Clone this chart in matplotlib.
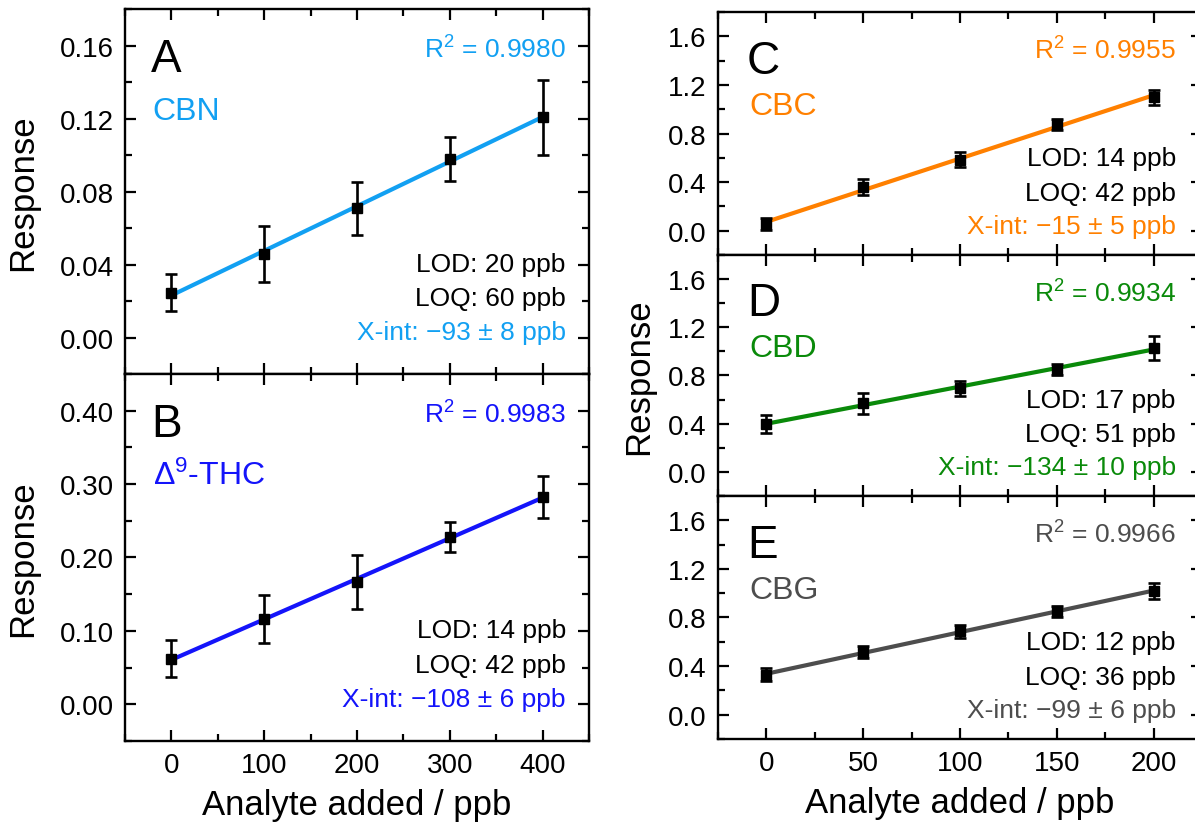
import numpy as np
import matplotlib.pyplot as plt
from matplotlib.ticker import MultipleLocator, FormatStrFormatter

plt.rcParams['font.family'] = ['Liberation Sans', 'DejaVu Sans']
plt.rcParams['mathtext.fontset'] = 'custom'
plt.rcParams['mathtext.rm'] = 'Liberation Sans'
plt.rcParams['mathtext.it'] = 'Liberation Sans:italic'

# standard addition levels (ppb)
conc_left = [0, 100, 200, 300, 400]
conc_right = [0, 50, 100, 150, 200]

# responses and standard deviations
cbn_resp = [0.0245, 0.0458, 0.0709, 0.0979, 0.1207]
cbn_err = [0.0101, 0.0153, 0.0145, 0.0121, 0.0206]
thc_resp = [0.0623, 0.1159, 0.1668, 0.2273, 0.2828]
thc_err = [0.0250, 0.0325, 0.0372, 0.0205, 0.0289]
cbc_resp = [0.055, 0.356, 0.585, 0.875, 1.098]
cbc_err = [0.047, 0.066, 0.063, 0.048, 0.062]
cbd_resp = [0.396, 0.571, 0.693, 0.848, 1.028]
cbd_err = [0.075, 0.087, 0.065, 0.047, 0.098]
cbg_resp = [0.329, 0.513, 0.686, 0.851, 1.016]
cbg_err = [0.055, 0.050, 0.052, 0.047, 0.067]

r2_vals = ['0.9980', '0.9983', '0.9955', '0.9934', '0.9966']
lod_vals = [20, 14, 14, 17, 12]
loq_vals = [60, 42, 42, 51, 36]
xint_vals = ['\u221293 \u00b1 8', '\u2212108 \u00b1 6', '\u221215 \u00b1 5',
             '\u2212134 \u00b1 10', '\u221299 \u00b1 6']


def draw_panel(ax, conc, resp, err, color, letter, name, i, txt_y):
    slope, icpt = np.polyfit(conc, resp, 1)
    xs = np.array([conc[0], conc[-1]])
    ax.plot(xs, slope * xs + icpt, color=color, lw=3, zorder=2)
    ax.errorbar(conc, resp, yerr=err, fmt='s', color='black', ms=6.5,
                capsize=4.5, elinewidth=1.9, capthick=1.9, zorder=3)
    ax.tick_params(which='both', direction='in', top=True, right=True,
                   width=1.6, labelsize=20, pad=8)
    ax.tick_params(which='major', length=8)
    ax.tick_params(which='minor', length=5)
    for s in ax.spines.values():
        s.set_linewidth(1.7)
    lx, ly, ny, ry, sx, sy = txt_y
    ax.text(lx, ly, letter, transform=ax.transAxes, fontsize=33, va='baseline')
    ax.text(lx + 0.004, ny, name, transform=ax.transAxes, fontsize=23,
            color=color, va='baseline')
    ax.text(sx, ry, 'R$^2$ = ' + r2_vals[i], transform=ax.transAxes,
            fontsize=19, color=color, ha='right', va='baseline')
    ax.text(sx, sy[0], 'LOD: %d ppb' % lod_vals[i], transform=ax.transAxes,
            fontsize=19, ha='right', va='baseline')
    ax.text(sx, sy[1], 'LOQ: %d ppb' % loq_vals[i], transform=ax.transAxes,
            fontsize=19, ha='right', va='baseline')
    ax.text(sx, sy[2], 'X-int: ' + xint_vals[i] + ' ppb', transform=ax.transAxes,
            fontsize=19, color=color, ha='right', va='baseline')


fig = plt.figure(figsize=(11.95, 8.28), dpi=100)

# left column
axA = fig.add_axes([0.1046, 0.5471, 0.3883, 0.4408])
axB = fig.add_axes([0.1046, 0.1039, 0.3883, 0.4432], sharex=axA)
# right column runs slightly past the right edge
axC = fig.add_axes([0.6008, 0.6908, 0.4050, 0.2935])
axD = fig.add_axes([0.6008, 0.3998, 0.4050, 0.2911], sharex=axC)
axE = fig.add_axes([0.6008, 0.1063, 0.4050, 0.2935], sharex=axC)

left_txt = (0.056, 0.83, 0.70, 0.868, 0.95, (0.282, 0.188, 0.095))
right_txt = (0.06, 0.75, 0.58, 0.808, 0.946, (0.37, 0.228, 0.09))

draw_panel(axA, conc_left, cbn_resp, cbn_err, '#12a0f2', 'A', 'CBN', 0, left_txt)
draw_panel(axB, conc_left, thc_resp, thc_err, '#1414fa', 'B', '\u0394$^9$-THC', 1, left_txt)
draw_panel(axC, conc_right, cbc_resp, cbc_err, '#ff8000', 'C', 'CBC', 2, right_txt)
draw_panel(axD, conc_right, cbd_resp, cbd_err, '#0a8a0a', 'D', 'CBD', 3, right_txt)
draw_panel(axE, conc_right, cbg_resp, cbg_err, '#4d4d4d', 'E', 'CBG', 4, right_txt)

axA.set_xlim(-50, 450)
axA.xaxis.set_major_locator(MultipleLocator(100))
axA.xaxis.set_minor_locator(MultipleLocator(50))
axA.set_ylim(-0.02, 0.18)
axA.yaxis.set_major_locator(MultipleLocator(0.04))
axA.yaxis.set_minor_locator(MultipleLocator(0.02))
axA.yaxis.set_major_formatter(FormatStrFormatter('%.2f'))
axA.tick_params(labelbottom=False)

axB.set_ylim(-0.05, 0.45)
axB.yaxis.set_major_locator(MultipleLocator(0.1))
axB.yaxis.set_minor_locator(MultipleLocator(0.05))
axB.yaxis.set_major_formatter(FormatStrFormatter('%.2f'))

axC.set_xlim(-25, 225)
axC.xaxis.set_major_locator(MultipleLocator(50))
axC.xaxis.set_minor_locator(MultipleLocator(25))
for ax in (axC, axD, axE):
    ax.set_ylim(-0.2, 1.8)
    ax.yaxis.set_major_locator(MultipleLocator(0.4))
    ax.yaxis.set_minor_locator(MultipleLocator(0.2))
    ax.yaxis.set_major_formatter(FormatStrFormatter('%.1f'))
axC.tick_params(labelbottom=False)
axD.tick_params(labelbottom=False)

for ax in (axA, axB):
    ax.set_ylabel('Response', fontsize=25)
    ax.yaxis.set_label_coords(-0.185, 0.5)
axD.set_ylabel('Response', fontsize=25)
axD.yaxis.set_label_coords(-0.13, 0.5)
for ax in (axB, axE):
    ax.set_xlabel('Analyte added / ppb', fontsize=25, labelpad=7)

fig.savefig('out.png', dpi=100)
